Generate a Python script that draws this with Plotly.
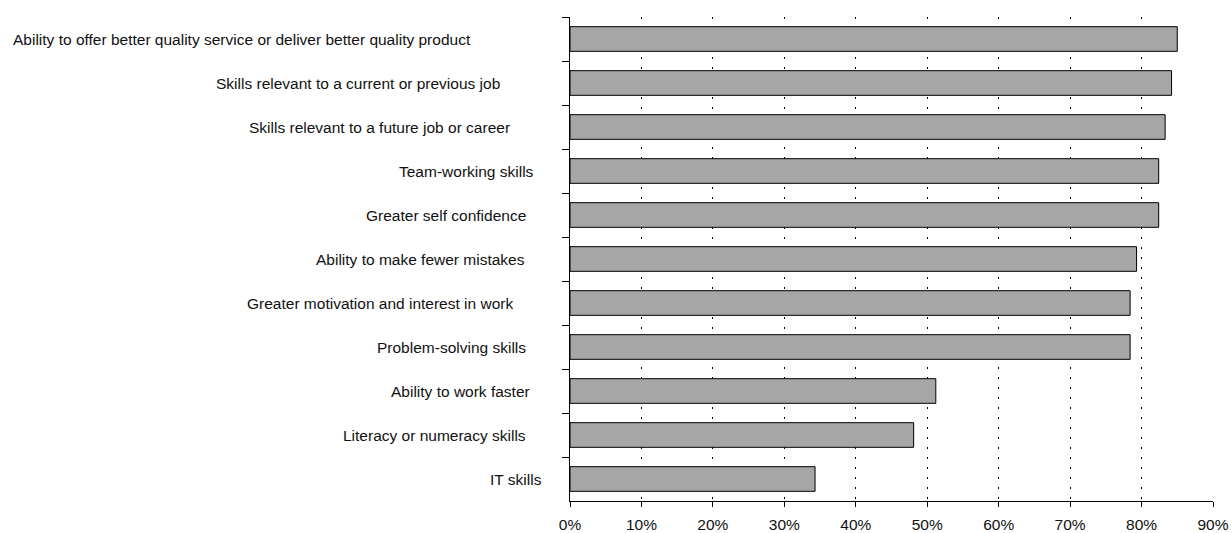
import plotly.graph_objects as go

# Share of respondents reporting each benefit of training
categories = [
    "Ability to offer better quality service or deliver better quality product",
    "Skills relevant to a current or previous job",
    "Skills relevant to a future job or career",
    "Team-working skills",
    "Greater self confidence",
    "Ability to make fewer mistakes",
    "Greater motivation and interest in work",
    "Problem-solving skills",
    "Ability to work faster",
    "Literacy or numeracy skills",
    "IT skills",
]
values = [0.850, 0.842, 0.833, 0.824, 0.824, 0.793, 0.784, 0.784, 0.512, 0.481, 0.343]

tick_vals = [i / 10 for i in range(10)]
tick_text = [f"{i * 10}%" for i in range(10)]

# Gap (px) between each category label's right edge and the value axis
label_gaps = [97, 68, 58, 34, 42, 43, 55, 42, 38, 42, 26]

FONT = "Liberation Sans, Arial, sans-serif"

fig = go.Figure(
    go.Bar(
        x=values,
        y=categories,
        orientation="h",
        marker=dict(color="#a6a6a6", line=dict(color="#000000", width=1)),
        hoverinfo="x+y",
    )
)

for cat, gap in zip(categories, label_gaps):
    fig.add_annotation(
        x=0, xref="paper", y=cat, yref="y",
        text=cat, showarrow=False,
        xanchor="right", yanchor="middle", xshift=-gap,
        font=dict(family=FONT, size=15.5, color="#111111"),
    )

fig.update_layout(
    width=1232,
    height=533,
    margin=dict(l=570, r=19, t=17, b=32),
    paper_bgcolor="white",
    plot_bgcolor="white",
    bargap=0.44,
    showlegend=False,
    font=dict(family=FONT, size=15.5, color="#111111"),
    xaxis=dict(
        range=[0, 0.9],
        tickvals=tick_vals,
        ticktext=tick_text,
        showline=True, linecolor="#000000", linewidth=1,
        ticks="outside", ticklen=5, tickcolor="#000000",
        showgrid=True, gridcolor="#000000", gridwidth=1, griddash="2px,8px",
        zeroline=False,
        ticklabelstandoff=4,
        automargin=False,
        tickfont=dict(family=FONT, size=15.5, color="#111111"),
    ),
    yaxis=dict(
        categoryorder="array",
        categoryarray=categories,
        autorange="reversed",
        showline=True, linecolor="#000000", linewidth=1,
        ticks="outside", ticklen=7, tickcolor="#000000",
        tickson="boundaries",
        showticklabels=False,
        showgrid=False,
        zeroline=False,
        automargin=False,
    ),
)

fig.write_html("out.html")
